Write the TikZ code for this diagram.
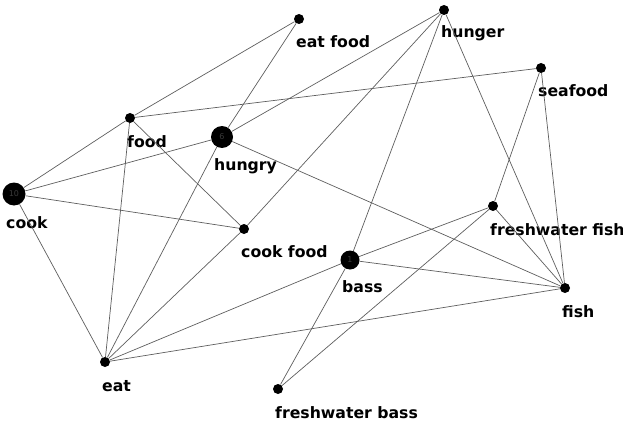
\documentclass[tikz,border=0pt]{standalone}
\usepackage{fontspec}
\setmainfont{DejaVu Sans}
\usetikzlibrary{calc,positioning}
\definecolor{edgeC}{HTML}{5E5E5E}
\definecolor{dotC}{HTML}{000000}
\definecolor{numC}{HTML}{3A3A3A}

\tikzset{
  dot/.style={circle,fill=dotC,inner sep=0pt,minimum size=10pt},
  bigdot/.style={circle,fill=dotC,inner sep=0pt,text=numC,font=\fontsize{8}{8}\selectfont},
  lbl/.style={anchor=west,inner sep=0pt,font=\fontsize{15.7}{18}\selectfont\bfseries},
  link/.style={edgeC,line width=0.7pt}
}

\begin{document}
\begin{tikzpicture}[x=1pt,y=-1pt]
  \useasboundingbox (0,0) rectangle (623,425);

  % terms
  \node[dot] (eatfood) at (299,19) {};
  \node[dot] (hunger) at (444,10) {};
  \node[dot] (seafood) at (541,68) {};
  \node[dot] (food) at (130,118) {};
  \node[bigdot,minimum size=22pt] (hungry) at (222,137) {6};
  \node[bigdot,minimum size=23pt] (cook) at (14,194) {10};
  \node[dot] (fwfish) at (493,206) {};
  \node[dot] (cookfood) at (244,229) {};
  \node[bigdot,minimum size=19pt] (bass) at (350,260) {1};
  \node[dot] (fish) at (565,288) {};
  \node[dot] (eat) at (105,362) {};
  \node[dot] (fwbass) at (278,389) {};

  % labels
  \node[lbl] at ([xshift=-3pt,yshift=-23pt]eatfood.center) {eat food};
  \node[lbl] at ([xshift=-3pt,yshift=-23pt]hunger.center) {hunger};
  \node[lbl] at ([xshift=-3pt,yshift=-23pt]seafood.center) {seafood};
  \node[lbl] at ([xshift=-3pt,yshift=-24pt]food.center) {food};
  \node[lbl] at ([xshift=-8pt,yshift=-29pt]hungry.center) {hungry};
  \node[lbl] at ([xshift=-8pt,yshift=-29pt]cook.center) {cook};
  \node[lbl] at ([xshift=-3pt,yshift=-24pt]fwfish.center) {freshwater fish};
  \node[lbl] at ([xshift=-3pt,yshift=-23pt]cookfood.center) {cook food};
  \node[lbl] at ([xshift=-8pt,yshift=-27pt]bass.center) {bass};
  \node[lbl] at ([xshift=-3pt,yshift=-24pt]fish.center) {fish};
  \node[lbl] at ([xshift=-3pt,yshift=-24pt]eat.center) {eat};
  \node[lbl] at ([xshift=-3pt,yshift=-24pt]fwbass.center) {freshwater bass};

  % links
  \draw[link] (cook) -- (food);
  \draw[link] (cook) -- (hungry);
  \draw[link] (cook) -- (cookfood);
  \draw[link] (cook) -- (eat);
  \draw[link] (food) -- (eatfood);
  \draw[link] (food) -- (seafood);
  \draw[link] (food) -- (cookfood);
  \draw[link] (food) -- (eat);
  \draw[link] (hungry) -- (eatfood);
  \draw[link] (hungry) -- (hunger);
  \draw[link] (hungry) -- (fish);
  \draw[link] (hungry) -- (eat);
  \draw[link] (hunger) -- (cookfood);
  \draw[link] (hunger) -- (bass);
  \draw[link] (hunger) -- (fish);
  \draw[link] (seafood) -- (fwfish);
  \draw[link] (seafood) -- (fish);
  \draw[link] (fwfish) -- (bass);
  \draw[link] (fwfish) -- (fish);
  \draw[link] (fwfish) -- (fwbass);
  \draw[link] (cookfood) -- (eat);
  \draw[link] (bass) -- (fish);
  \draw[link] (bass) -- (eat);
  \draw[link] (bass) -- (fwbass);
  \draw[link] (eat) -- (fish);
\end{tikzpicture}
\end{document}
